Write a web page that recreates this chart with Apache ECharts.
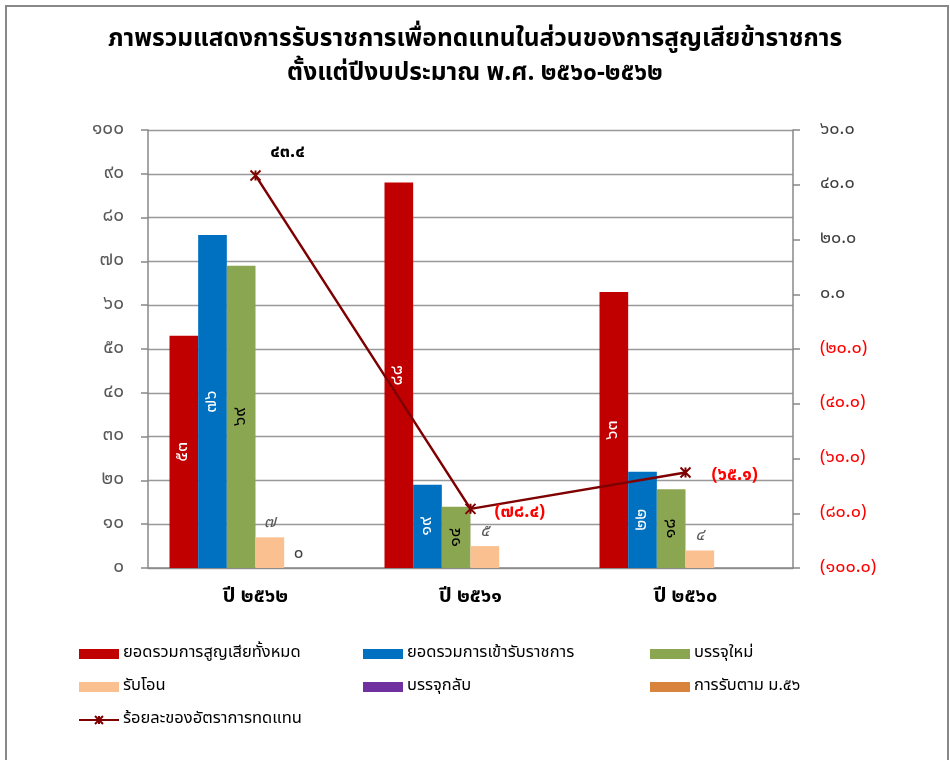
<!DOCTYPE html>
<html>
<head>
<meta charset="utf-8">
<script src="https://cdn.jsdelivr.net/npm/echarts@6/dist/echarts.min.js"></script>
<style>
html,body{margin:0;padding:0;background:#fff;}
#chart{width:950px;height:760px;}
</style>
</head>
<body>
<div id="chart"></div>
<script>
// ---- data ----
var categories = ['ปี ๒๕๖๒', 'ปี ๒๕๖๑', 'ปี ๒๕๖๐'];
var lossTotal = [53, 88, 63];
var entryTotal = [76, 19, 22];
var newHire = [69, 14, 18];
var transferIn = [7, 5, 4];
var reinstated = [0, null, null];
var section56 = [null, null, null];
var replacementRate = [43.4, -78.4, -65.1];
var seriesNames = ['ยอดรวมการสูญเสียทั้งหมด', 'ยอดรวมการเข้ารับราชการ', 'บรรจุใหม่', 'รับโอน', 'บรรจุกลับ', 'การรับตาม ม.๕๖', 'ร้อยละของอัตราการทดแทน'];
var leftTicks = {min: 0, max: 100, interval: 10};
var rightTicks = {min: -100, max: 60, interval: 20};

var FONT = "Tahoma, 'Noto Sans Thai', 'Noto Sans', sans-serif";
function th(s) { return String(s).replace(/[0-9]/g, function (d) { return '๐๑๒๓๔๕๖๗๘๙'[+d]; }); }
function pct(v) { var s = th(Math.abs(v).toFixed(1)); return v < 0 ? '(' + s + ')' : s; }

var chart = echarts.init(document.getElementById('chart'));

function barSeries(name, data, color, labelCfg) {
  return {
    name: name, type: 'bar', data: data, yAxisIndex: 0,
    barGap: '0%', barCategoryGap: '20%',
    itemStyle: {color: color},
    label: labelCfg
  };
}
var insideLabel = function (color) {
  return {show: true, position: 'inside', rotate: 90, color: color, fontFamily: FONT, fontSize: 18,
    formatter: function (p) { return th(p.value); }};
};
function rectItem(n) { return {name: n, icon: 'rect'}; }

var option = {
  backgroundColor: '#fff',
  animation: false,
  graphic: [{
    type: 'rect', shape: {x: 6, y: 6, width: 942, height: 800},
    style: {fill: 'none', stroke: '#888', lineWidth: 2}, silent: true
  }],
  title: {
    text: 'ภาพรวมแสดงการรับราชการเพื่อทดแทนในส่วนของการสูญเสียข้าราชการ\nตั้งแต่ปีงบประมาณ พ.ศ. ๒๕๖๐-๒๕๖๒',
    left: 'center', top: 19,
    textStyle: {fontFamily: FONT, fontSize: 24.5, fontWeight: 'bold', color: '#000', lineHeight: 34}
  },
  legend: [
    {data: [rectItem(seriesNames[0]), rectItem(seriesNames[3]), {name: seriesNames[6]}], left: 78, top: 644},
    {data: [rectItem(seriesNames[1]), rectItem(seriesNames[4])], left: 363, top: 644},
    {data: [rectItem(seriesNames[2]), rectItem(seriesNames[5])], left: 650, top: 644}
  ].map(function (l) {
    return Object.assign(l, {orient: 'vertical', padding: 0, itemWidth: 40, itemHeight: 10, itemGap: 13,
      textStyle: {fontFamily: FONT, fontSize: 16.5, color: '#000', lineHeight: 20, padding: [0, 0, 0, -1]}});
  }),
  grid: {left: 148, right: 157, top: 130, bottom: 192},
  xAxis: {
    type: 'category', data: categories,
    axisLine: {lineStyle: {color: '#888', width: 1.5}},
    axisTick: {show: false},
    axisLabel: {fontFamily: FONT, fontSize: 20, fontWeight: 'bold', color: '#000', margin: 20}
  },
  yAxis: [{
    type: 'value', min: leftTicks.min, max: leftTicks.max, interval: leftTicks.interval,
    axisLine: {show: true, lineStyle: {color: '#888', width: 1.5}},
    axisTick: {show: true, length: 7, lineStyle: {color: '#888', width: 1.5}},
    splitLine: {show: true, lineStyle: {color: '#999', width: 1.3}},
    axisLabel: {fontFamily: FONT, fontSize: 19, color: '#595959', margin: 24,
      formatter: function (v) { return th(v); }}
  }, {
    type: 'value', position: 'right', min: rightTicks.min, max: rightTicks.max, interval: rightTicks.interval,
    axisLine: {show: true, lineStyle: {color: '#888', width: 1.5}},
    axisTick: {show: true, length: 7, lineStyle: {color: '#888', width: 1.5}},
    splitLine: {show: false},
    axisLabel: {fontFamily: FONT, fontSize: 18, margin: 27,
      color: function (v) { return v < 0 ? '#FF0000' : '#404040'; },
      formatter: function (v) { return pct(v); }}
  }],
  series: [
    barSeries(seriesNames[0], lossTotal, '#C00000', insideLabel('#fff')),
    barSeries(seriesNames[1], entryTotal, '#0070C0', insideLabel('#fff')),
    barSeries(seriesNames[2], newHire, '#8BA650', insideLabel('#000')),
    barSeries(seriesNames[3], transferIn, '#FAC090', {show: true, position: 'top', color: '#595959', fontFamily: FONT, fontSize: 17, fontStyle: 'italic',
      formatter: function (p) { return th(p.value); }}),
    barSeries(seriesNames[4], reinstated, '#7030A0', {show: true, position: 'top', color: '#404040', fontFamily: FONT, fontSize: 17,
      formatter: function (p) { return p.value == null ? '' : th(p.value); }}),
    barSeries(seriesNames[5], section56, '#D9843C', {show: false}),
    {
      name: seriesNames[6], type: 'line', yAxisIndex: 1, data: replacementRate.map(function (v, i) {
        var lbl = i === 0 ? {position: 'top', offset: [32, -2], color: '#000'}
                          : {position: 'right', distance: i === 1 ? 18 : 20, offset: [0, 4], color: '#FF0000'};
        return {value: v, label: lbl};
      }),
      lineStyle: {color: '#7F0000', width: 2.5},
      symbol: 'path://M0,0L10,10M10,0L0,10M5,0L5,10', symbolSize: 10,
      itemStyle: {color: '#7F0000', borderColor: '#7F0000', borderWidth: 2},
      label: {show: true, fontFamily: FONT, fontSize: 18, fontWeight: 'bold',
        formatter: function (p) { return pct(p.value); }},
      z: 5
    }
  ]
};
chart.setOption(option);
</script>
</body>
</html>
